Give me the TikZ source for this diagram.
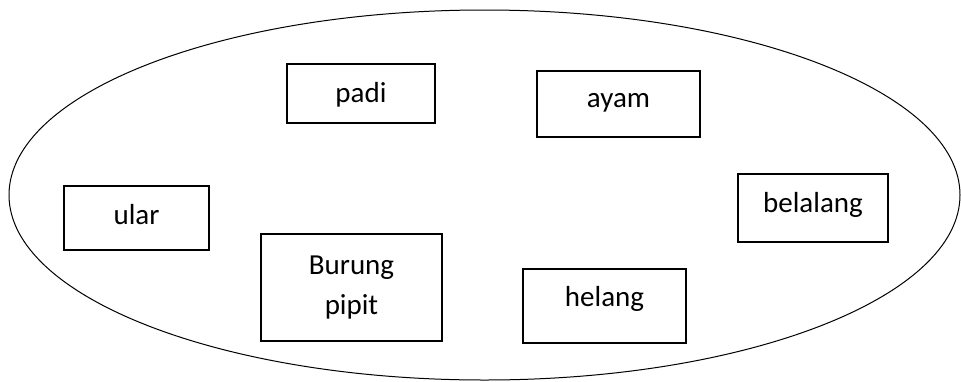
\documentclass[tikz,border=0pt]{standalone}
\usepackage{fontspec}
\setmainfont{Carlito}
\usetikzlibrary{shapes.geometric}
\tikzset{
  boxnode/.style={draw=black, line width=1.6pt, rectangle, inner sep=0pt},
  lbl/.style={anchor=base, inner sep=0pt, font=\fontsize{29}{36}\selectfont},
  eco/.style={draw=black, line width=1pt, ellipse, inner sep=0pt}
}
\begin{document}
\begin{tikzpicture}[x=1pt,y=-1pt]
\useasboundingbox (0,0) rectangle (961,381);
\node[eco, minimum width=951pt, minimum height=370pt] (world) at (484.5,195) {};
% boxes
\node[boxnode, minimum width=148pt, minimum height=59pt] (padi) at (361,93.5) {};
\node[boxnode, minimum width=163pt, minimum height=66pt] (ayam) at (618.5,104) {};
\node[boxnode, minimum width=145pt, minimum height=64pt] (ular) at (136.5,218) {};
\node[boxnode, minimum width=150pt, minimum height=68pt] (belalang) at (813,208) {};
\node[boxnode, minimum width=181pt, minimum height=107pt] (burung) at (351.5,287.5) {};
\node[boxnode, minimum width=163pt, minimum height=74pt] (helang) at (604.5,306) {};
% labels
\node[lbl] (padiT) at ([yshift=-39pt]padi.north) {padi};
\node[lbl] (ayamT) at ([yshift=-37pt]ayam.north) {ayam};
\node[lbl] (ularT) at ([yshift=-39pt]ular.north) {ular};
\node[lbl] (belalangT) at ([yshift=-39pt]belalang.north) {belalang};
\node[lbl] (burungT) at ([yshift=-41pt]burung.north) {Burung};
\node[lbl] (pipitT) at ([yshift=-81pt]burung.north) {pipit};
\node[lbl] (helangT) at ([yshift=-38pt]helang.north) {helang};
\end{tikzpicture}
\end{document}
